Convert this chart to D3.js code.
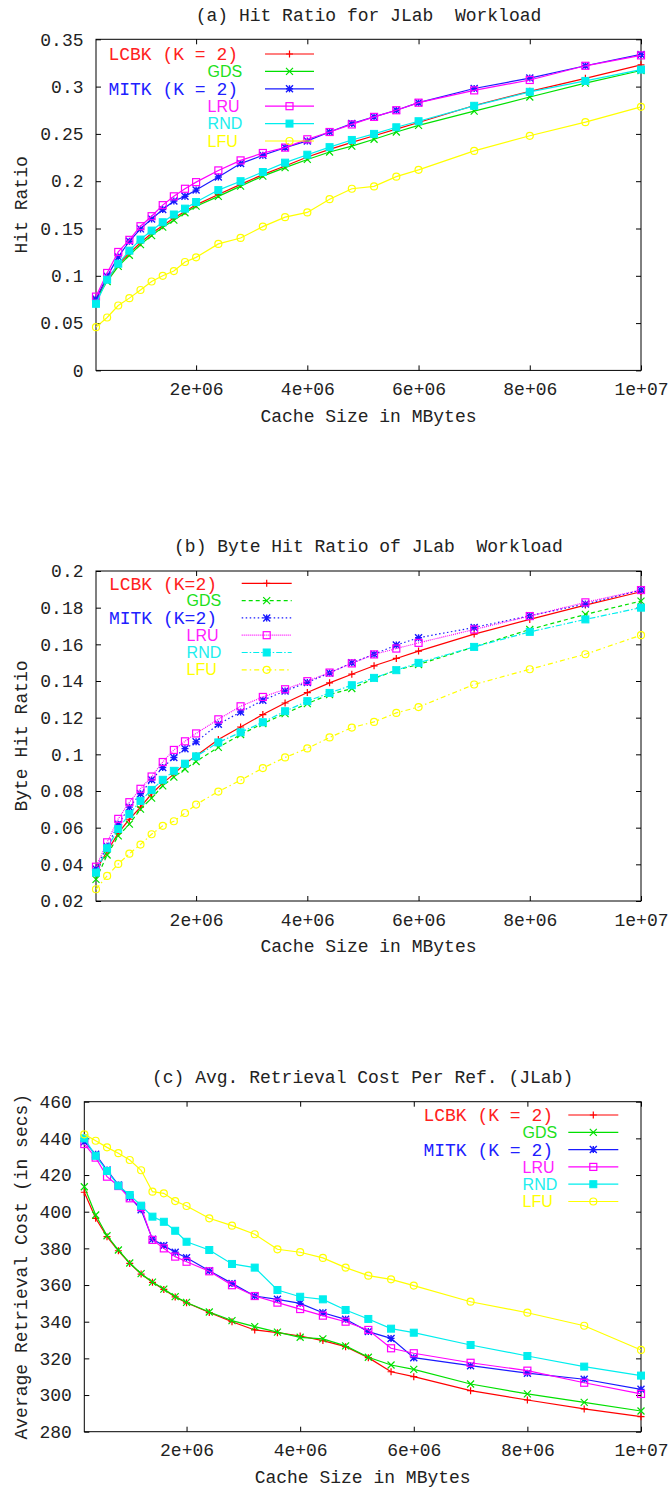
<!DOCTYPE html>
<html><head><meta charset="utf-8">
<script src="https://cdn.jsdelivr.net/npm/d3@7"></script>
<style>
html,body{margin:0;padding:0;background:#fff;}
text{white-space:pre;}
</style></head>
<body>
<svg id="chart" width="670" height="1488"></svg>
<script>
// ---------------- DATA ----------------
const cacheSizes = [2e5,4e5,6e5,8e5,1e6,1.2e6,1.4e6,1.6e6,1.8e6,2e6,2.4e6,2.8e6,3.2e6,3.6e6,4e6,4.4e6,4.8e6,5.2e6,5.6e6,6e6,7e6,8e6,9e6,1e7];
const xTickValues = [2e6,4e6,6e6,8e6,1e7];
const xTickLabels = ["2e+06","4e+06","6e+06","8e+06","1e+07"];

// (a) Hit ratio
const hitLCBK = [0.075,0.096,0.112,0.124,0.135,0.145,0.153,0.161,0.168,0.175,0.186,0.1966,0.207,0.216,0.2256,0.2337,0.241,0.248,0.255,0.262,0.280,0.295,0.3087,0.323];
const hitGDS  = [0.0746,0.094,0.110,0.1217,0.133,0.1425,0.1514,0.1588,0.1666,0.1736,0.184,0.1948,0.2054,0.2143,0.223,0.2309,0.237,0.2443,0.252,0.259,0.274,0.289,0.3037,0.317];
const hitMITK = [0.0755,0.0994,0.120,0.1365,0.1496,0.160,0.170,0.179,0.184,0.1906,0.2044,0.2186,0.2274,0.2355,0.2426,0.252,0.261,0.268,0.275,0.283,0.298,0.309,0.322,0.334];
const hitLRU  = [0.078,0.103,0.1252,0.138,0.1524,0.163,0.1747,0.184,0.192,0.199,0.2114,0.222,0.2298,0.2355,0.2443,0.252,0.260,0.268,0.275,0.283,0.296,0.307,0.322,0.333];
const hitRND  = [0.0704,0.0959,0.1128,0.1266,0.1383,0.1478,0.1566,0.1648,0.171,0.178,0.1906,0.200,0.2097,0.2196,0.228,0.236,0.2436,0.250,0.257,0.2634,0.2797,0.2945,0.306,0.318];
const hitLFU  = [0.0457,0.0559,0.0686,0.0764,0.085,0.094,0.100,0.105,0.1146,0.1195,0.1337,0.140,0.152,0.162,0.167,0.181,0.192,0.1945,0.2048,0.212,0.232,0.248,0.2624,0.2786];
const hitTicks = [0,0.05,0.1,0.15,0.2,0.25,0.3,0.35];
const hitTickLabels = ["0","0.05","0.1","0.15","0.2","0.25","0.3","0.35"];

// (b) Byte hit ratio
const byteLCBK = [0.037,0.047,0.057,0.0646,0.0712,0.0785,0.0843,0.0892,0.0949,0.0992,0.1081,0.1149,0.1217,0.128,0.1337,0.139,0.1437,0.1483,0.1523,0.1563,0.1656,0.1736,0.1814,0.1887];
const byteGDS  = [0.0318,0.0451,0.0555,0.0619,0.0701,0.0761,0.0828,0.0876,0.092,0.0961,0.1038,0.1108,0.1168,0.1222,0.1277,0.1326,0.1359,0.1414,0.1459,0.149,0.1586,0.1681,0.1763,0.1836];
const byteMITK = [0.0375,0.0497,0.0619,0.0712,0.0785,0.0861,0.0928,0.0983,0.1031,0.1068,0.1164,0.1231,0.1295,0.1346,0.1392,0.1444,0.1499,0.1546,0.1596,0.1636,0.1692,0.1756,0.182,0.1896];
const byteLRU  = [0.0387,0.052,0.0648,0.0739,0.0812,0.0879,0.0958,0.1024,0.1071,0.1114,0.1191,0.1262,0.1313,0.1355,0.1399,0.1446,0.1496,0.1545,0.1577,0.1608,0.1681,0.1754,0.1829,0.1896];
const byteRND  = [0.0355,0.0488,0.0593,0.0674,0.0746,0.0806,0.0861,0.091,0.0949,0.0989,0.1065,0.112,0.1175,0.1235,0.129,0.1335,0.1377,0.1417,0.1459,0.1499,0.1586,0.1668,0.1736,0.180];
const byteLFU  = [0.0264,0.0337,0.0402,0.0458,0.0508,0.0564,0.061,0.0635,0.068,0.0726,0.0797,0.0859,0.0925,0.0983,0.1032,0.1092,0.1146,0.1177,0.1226,0.1258,0.1381,0.1464,0.1546,0.165];
const byteTicks = [0.02,0.04,0.06,0.08,0.1,0.12,0.14,0.16,0.18,0.2];
const byteTickLabels = ["0.02","0.04","0.06","0.08","0.1","0.12","0.14","0.16","0.18","0.2"];

// (c) Average retrieval cost
const costLCBK = [410.6,396.4,386.4,378.7,371.8,366,361.5,357.6,353.5,350.3,345,340,335.5,334,332.2,329.7,326.4,320.4,312.7,310,302.4,297.3,292.4,288.2];
const costGDS  = [413.6,398.2,386.9,379.1,372,366.2,361.6,357.8,353.7,350.5,345.3,340.6,337.3,334.3,331.5,330.6,326.8,320.6,316.4,314,306,300.6,296,291.3];
const costMITK = [438.2,431.3,422.7,414.6,407.9,401,385,381.5,377.9,374.9,367.8,360.9,354,352.2,350,344.9,341.3,334.6,330.9,320.4,316,311.9,308.6,303.1];
const costLRU  = [436.9,429.5,419.1,414,407.3,402.5,384.6,380,375.5,372.7,367.5,359.9,354,350.4,346.9,343.3,340,335.5,325.5,322.8,317.6,313.3,306.7,300.6];
const costRND  = [440,430.5,422.2,414.2,409.1,403.3,397.3,394.5,389.6,383.6,379.1,371.5,369.5,357.3,353.6,352.2,346.4,341.5,336.2,334,327.3,321.3,315.5,310.6];
const costLFU  = [442.2,438.7,435.1,431.9,428.2,422.6,410.9,410,405.8,403.1,396.4,392.4,387.7,379.5,377.9,374.8,369.5,365.1,363.1,359.7,350.9,344.9,337.8,324.6];
const costTicks = [280,300,320,340,360,380,400,420,440,460];
const costTickLabels = ["280","300","320","340","360","380","400","420","440","460"];

const seriesNames = ["LCBK","GDS","MITK","LRU","RND","LFU"];
const legendLabelsAC = ["LCBK (K = 2)","GDS","MITK (K = 2)","LRU","RND","LFU"];
const legendLabelsB  = ["LCBK (K=2)","GDS","MITK (K=2)","LRU","RND","LFU"];

// ---------------- STYLE ----------------
const colors = ["#ff0000","#00e000","#1a1aff","#ff00ff","#00eeee","#ffff00"];
const textColors = ["#ff2020","#20e020","#2020ff","#ff20ff","#20eeee","#ffff00"];
const markers = ["plus","cross","star","sqOpen","sqFill","circle"];
const dashesB = [null,"4,3","1.5,2.5","1,1","6,2,1.5,2","5,3,1.5,3"];
const MONO = "'Liberation Mono','DejaVu Sans Mono',monospace";
const SANS = "'Liberation Sans',Arial,sans-serif";
const FS = 18;

const panels = [
  {title:"(a) Hit Ratio for JLab  Workload", yTitle:"Hit Ratio",
   series:[hitLCBK,hitGDS,hitMITK,hitLRU,hitRND,hitLFU], yTicks:hitTicks, yLabels:hitTickLabels,
   top:39.3, bottom:370.4, left:96, right:641, titleY:15, dashes:null,
   legendLabels:legendLabelsAC, leg:{x1:265,x2:314,textEnd:238,y0:54,dy:17.4}},
  {title:"(b) Byte Hit Ratio of JLab  Workload", yTitle:"Byte Hit Ratio",
   series:[byteLCBK,byteGDS,byteMITK,byteLRU,byteRND,byteLFU], yTicks:byteTicks, yLabels:byteTickLabels,
   top:571, bottom:901, left:96, right:641, titleY:545.5, dashes:dashesB,
   legendLabels:legendLabelsB, leg:{x1:241.7,x2:291.7,textEnd:217,y0:583.3,dy:17.3}},
  {title:"(c) Avg. Retrieval Cost Per Ref. (JLab)", yTitle:"Average Retrieval Cost (in secs)",
   series:[costLCBK,costGDS,costMITK,costLRU,costRND,costLFU], yTicks:costTicks, yLabels:costTickLabels,
   top:1101.7, bottom:1431.7, left:84.3, right:641, titleY:1077, dashes:null,
   legendLabels:legendLabelsAC, leg:{x1:568.3,x2:618.3,textEnd:553,y0:1115,dy:17.3}}
];

const svg = d3.select("#chart");
svg.append("rect").attr("width",670).attr("height",1488).attr("fill","#fff");

function drawMarker(g, type, x, y, color){
  const s = 3.5;
  if(type==="plus"){
    g.append("path").attr("d",`M${x-s},${y}H${x+s}M${x},${y-s}V${y+s}`).attr("stroke",color).attr("stroke-width",1.2).attr("fill","none");
  } else if(type==="cross"){
    g.append("path").attr("d",`M${x-s},${y-s}L${x+s},${y+s}M${x-s},${y+s}L${x+s},${y-s}`).attr("stroke",color).attr("stroke-width",1.2).attr("fill","none");
  } else if(type==="star"){
    g.append("path").attr("d",`M${x-s},${y}H${x+s}M${x},${y-s}V${y+s}M${x-s},${y-s}L${x+s},${y+s}M${x-s},${y+s}L${x+s},${y-s}`).attr("stroke",color).attr("stroke-width",1.4).attr("fill","none");
  } else if(type==="sqOpen"){
    g.append("rect").attr("x",x-s).attr("y",y-s).attr("width",2*s).attr("height",2*s).attr("fill","none").attr("stroke",color).attr("stroke-width",1.2);
  } else if(type==="sqFill"){
    g.append("rect").attr("x",x-s).attr("y",y-s).attr("width",2*s).attr("height",2*s).attr("fill",color).attr("stroke",color).attr("stroke-width",1);
  } else if(type==="circle"){
    g.append("circle").attr("cx",x).attr("cy",y).attr("r",s).attr("fill","none").attr("stroke",color).attr("stroke-width",1.2);
  }
}

panels.forEach(p => {
  const g = svg.append("g");
  const x = d3.scaleLinear().domain([2e5,1e7]).range([p.left,p.right]);
  const y = d3.scaleLinear().domain([p.yTicks[0], p.yTicks[p.yTicks.length-1]]).range([p.bottom,p.top]);
  const tickLen = 5;

  // axes (inward ticks, mirrored)
  const xb = d3.axisBottom(x).tickValues(xTickValues).tickFormat((d,i)=>xTickLabels[i]).tickSize(-tickLen).tickPadding(12);
  const xt = d3.axisTop(x).tickValues(xTickValues).tickFormat("").tickSize(-tickLen);
  const yl = d3.axisLeft(y).tickValues(p.yTicks).tickFormat((d,i)=>p.yLabels[i]).tickSize(-tickLen).tickPadding(12.5);
  const yr = d3.axisRight(y).tickValues(p.yTicks).tickFormat("").tickSize(-tickLen);
  const axes = [
    g.append("g").attr("transform",`translate(0,${p.bottom})`).call(xb),
    g.append("g").attr("transform",`translate(0,${p.top})`).call(xt),
    g.append("g").attr("transform",`translate(${p.left},0)`).call(yl),
    g.append("g").attr("transform",`translate(${p.right},0)`).call(yr)
  ];
  axes.forEach(a => {
    a.select(".domain").remove();
    a.selectAll("line").attr("stroke","#000").attr("stroke-width",1);
    a.selectAll("text").attr("font-family",MONO).attr("font-size",FS).attr("fill","#222");
  });

  // frame
  g.append("rect").attr("x",p.left).attr("y",p.top).attr("width",p.right-p.left).attr("height",p.bottom-p.top)
    .attr("fill","none").attr("stroke","#000").attr("stroke-width",1);

  // titles
  g.append("text").attr("x",(p.left+p.right)/2).attr("y",p.titleY).attr("dy","0.35em").attr("text-anchor","middle")
    .attr("font-family",MONO).attr("font-size",FS).attr("fill","#222").text(p.title);
  g.append("text").attr("x",(p.left+p.right)/2).attr("y",p.bottom+45).attr("dy","0.35em").attr("text-anchor","middle")
    .attr("font-family",MONO).attr("font-size",FS).attr("fill","#222").text("Cache Size in MBytes");
  g.append("text").attr("transform",`translate(21,${(p.top+p.bottom)/2}) rotate(-90)`).attr("dy","0.35em").attr("text-anchor","middle")
    .attr("font-family",MONO).attr("font-size",FS).attr("fill","#222").text(p.yTitle);

  // series
  const line = d3.line().x((d,i)=>x(cacheSizes[i])).y(d=>y(d));
  p.series.forEach((vals, si) => {
    const sg = g.append("g");
    sg.append("path").datum(vals).attr("d",line).attr("fill","none").attr("stroke",colors[si]).attr("stroke-width",1.2)
      .attr("stroke-dasharray", p.dashes ? p.dashes[si] : null);
    vals.forEach((v,i) => drawMarker(sg, markers[si], x(cacheSizes[i]), y(v), colors[si]));
  });

  // legend
  const L = p.leg;
  p.legendLabels.forEach((lab, si) => {
    const ly = L.y0 + si*L.dy;
    const isLong = lab.length > 4;
    const t = g.append("text").attr("y",ly).attr("dy","0.35em").attr("fill",textColors[si]).text(lab);
    if(isLong){
      t.attr("x",L.textEnd).attr("text-anchor","end").attr("font-family",MONO).attr("font-size",FS);
    } else {
      t.attr("x",L.textEnd - lab.length*FS*0.6 + 2).attr("text-anchor","start").attr("font-family",SANS).attr("font-size",16);
    }
    g.append("line").attr("x1",L.x1).attr("x2",L.x2).attr("y1",ly).attr("y2",ly).attr("stroke",colors[si]).attr("stroke-width",1.2)
      .attr("stroke-dasharray", p.dashes ? p.dashes[si] : null);
    drawMarker(g, markers[si], (L.x1+L.x2)/2, ly, colors[si]);
  });
});
</script>
</body></html>
